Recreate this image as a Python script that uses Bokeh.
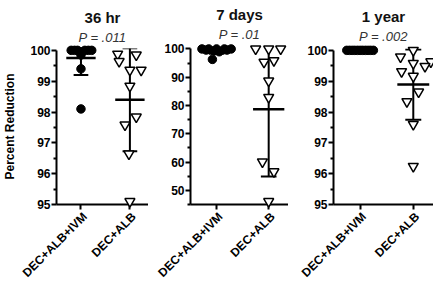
import math
from bokeh.plotting import figure
from bokeh.models import FixedTicker, Range1d
from bokeh.core.properties import value
from bokeh.layouts import row
from bokeh.embed import file_html
from bokeh.resources import INLINE

# ---------------- data ----------------
groups = ["DEC+ALB+IVM", "DEC+ALB"]
panel_titles = ["36 hr", "7 days", "1 year"]
p_texts = ["P = .011", "P = .01", "P = .002"]

# 36 hr
ivm_36 = [100, 100, 100, 100, 100, 100, 99.95, 99.85, 99.4, 98.1]
ivm_36_jitter = [-0.2, -0.13, -0.07, 0.08, 0.15, 0.22, 0.0, 0.0, 0.0, 0.0]
alb_36 = [99.88, 99.85, 99.64, 99.36, 99.36, 98.84, 97.84, 97.58, 96.64, 95.1]
alb_36_jitter = [-0.25, 0.13, -0.22, 0.0, 0.23, 0.0, 0.13, -0.1, -0.02, 0.0]
mean_36 = [99.75, 98.4]
sd_36 = [0.55, 1.67]

# 7 days
ivm_7 = [100, 100, 100, 100, 100, 99.6, 99.6, 99.3, 99.0, 96.3]
ivm_7_jitter = [-0.28, -0.15, 0.0, 0.15, 0.28, -0.2, 0.2, -0.05, 0.05, -0.08]
alb_7 = [100, 100, 100, 95.3, 95.9, 88.7, 82.9, 60.1, 56.6, 46.1]
alb_7_jitter = [-0.25, 0.0, 0.23, -0.09, 0.1, 0.0, 0.0, -0.12, 0.1, 0.0]
mean_7 = [99.4, 78.7]
sd_7 = [1.1, 23.8]

# 1 year
ivm_1y = [100] * 11
ivm_1y_jitter = [-0.25, -0.2, -0.15, -0.1, -0.05, 0.0, 0.05, 0.1, 0.15, 0.2, 0.25]
alb_1y = [100.0, 99.79, 99.58, 99.63, 99.31, 99.48, 99.16, 98.65, 98.34, 97.6, 96.24]
alb_1y_jitter = [0.0, -0.24, 0.0, 0.33, -0.22, 0.22, 0.0, 0.1, -0.12, 0.0, 0.0]
mean_1y = [100.0, 98.89]
sd_1y = [0.0, 1.14]

# y-axis ticks
ticks_pct = [95, 96, 97, 98, 99, 100]
minor_pct = [95.5, 96.5, 97.5, 98.5, 99.5]
ticks_7 = [50, 60, 70, 80, 90, 100]
minor_7 = [45, 55, 65, 75, 85, 95]

FONT = "Liberation Sans"
HEIGHT = 281


def make_panel(title, ptxt, ivm, ivm_j, alb, alb_j, means, sds, yr, ticks, minor,
               width, border_left, border_top, border_bottom, title_off, p_off,
               ylabel=None):
    xr = (0.5, 2.38)
    p = figure(width=width, height=HEIGHT, output_backend="svg", toolbar_location=None,
               x_range=Range1d(*xr), y_range=Range1d(*yr),
               min_border_left=border_left, min_border_right=0,
               min_border_top=border_top, min_border_bottom=border_bottom)
    p.outline_line_color = None
    p.grid.visible = False
    p.background_fill_color = "white"
    p.border_fill_color = "white"

    # axes
    yax = p.yaxis[0]
    yax.ticker = FixedTicker(ticks=ticks, minor_ticks=minor)
    yax.bounds = (yr[0], ticks[-1])
    xax = p.xaxis[0]
    xax.ticker = FixedTicker(ticks=[1, 2])
    xax.major_label_overrides = {1: "", 2: ""}
    for ax in (xax, yax):
        ax.axis_line_width = 2
        ax.axis_line_color = "black"
        ax.major_tick_line_width = 2
        ax.major_tick_line_color = "black"
        ax.major_tick_out = 5
        ax.major_tick_in = 0
        ax.minor_tick_line_width = 2
        ax.minor_tick_line_color = "black"
        ax.minor_tick_out = 3
        ax.minor_tick_in = 0
        ax.major_label_text_font = FONT
        ax.major_label_text_font_size = "12px"
        ax.major_label_text_font_style = "bold"
        ax.major_label_text_color = "black"
        ax.major_label_standoff = 1
    if ylabel:
        yax.axis_label = ylabel
        yax.axis_label_text_font = FONT
        yax.axis_label_text_font_size = "12px"
        yax.axis_label_text_font_style = "bold"
        yax.axis_label_text_color = "black"
        yax.axis_label_standoff = 10

    # error bars (mean +/- SD)
    xs = [1, 2]
    lo = [m - s for m, s in zip(means, sds)]
    hi = [m + s for m, s in zip(means, sds)]
    p.segment(x0=xs, y0=lo, x1=xs, y1=hi, line_color="black", line_width=2)
    p.segment(x0=[x - 0.3 for x in xs], y0=means, x1=[x + 0.3 for x in xs], y1=means,
              line_color="black", line_width=2.5)
    p.segment(x0=[x - 0.15 for x in xs], y0=lo, x1=[x + 0.15 for x in xs], y1=lo,
              line_color="black", line_width=2)
    p.segment(x0=[x - 0.15 for x in xs], y0=hi, x1=[x + 0.15 for x in xs], y1=hi,
              line_color="black", line_width=2)

    # points
    r1 = p.scatter(x=[1 + j for j in ivm_j], y=ivm, marker="circle", size=8.5,
                   fill_color="black", line_color="black")
    r2 = p.scatter(x=[2 + j for j in alb_j], y=alb, marker="inverted_triangle", size=10,
                   fill_color="white", line_color="black", line_width=1.5)

    # category labels (rotated, ending just under each tick)
    r3 = p.text(x=xs, y=[yr[0]] * 2, text=groups, angle=math.pi / 4,
                text_align="right", text_baseline="middle", x_offset=4, y_offset=10,
                text_font=value(FONT), text_font_size="12px", text_font_style="bold",
                text_color="black")

    # panel title and P value, centred over the frame
    xc = (xr[0] + xr[1]) / 2
    r4 = p.text(x=[xc], y=[yr[1]], text=[title], text_align="center",
                text_baseline="alphabetic", y_offset=title_off,
                text_font=value(FONT), text_font_size="15px", text_font_style="bold",
                text_color="#111111")
    r5 = p.text(x=[xc], y=[yr[1]], text=[ptxt], text_align="center",
                text_baseline="alphabetic", y_offset=p_off,
                text_font=value(FONT), text_font_size="13px", text_font_style="italic",
                text_color="#333333")
    for r in (r1, r2, r3, r4, r5):
        r.level = "overlay"
    return p


p1 = make_panel(panel_titles[0], p_texts[0], ivm_36, ivm_36_jitter, alb_36, alb_36_jitter,
                mean_36, sd_36, (95, 100.06), ticks_pct, minor_pct,
                148, 50, 46, 74, -31, -11, ylabel="Percent Reduction")
p2 = make_panel(panel_titles[1], p_texts[1], ivm_7, ivm_7_jitter, alb_7, alb_7_jitter,
                mean_7, sd_7, (45, 100.15), ticks_7, minor_7,
                140, 42, 48, 75, -34, -14)
p3 = make_panel(panel_titles[2], p_texts[2], ivm_1y, ivm_1y_jitter, alb_1y, alb_1y_jitter,
                mean_1y, sd_1y, (95, 100.06), ticks_pct, minor_pct,
                145, 45, 45, 77, -32, -12)

layout = row(p1, p2, p3, spacing=0)
open("out.html", "w").write(file_html(layout, INLINE))
